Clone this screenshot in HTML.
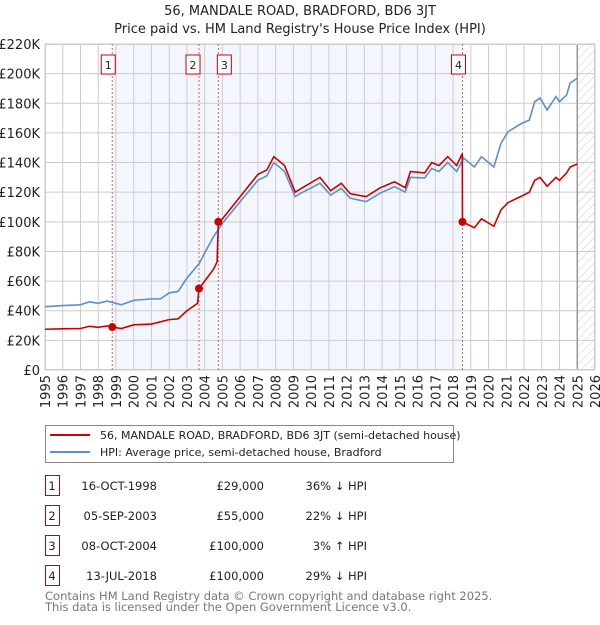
<!DOCTYPE html>
<html><head><meta charset="utf-8"><style>
body{margin:0;background:#fff;font-family:"Liberation Sans","DejaVu Sans",sans-serif;}
svg text{font-family:"DejaVu Sans","Liberation Sans",sans-serif;}
</style></head><body>
<svg id="c" width="600" height="620" xmlns="http://www.w3.org/2000/svg">
<defs><pattern id="hatch" width="6" height="6" patternUnits="userSpaceOnUse" patternTransform="rotate(45)"><line x1="0" y1="0" x2="0" y2="6" stroke="#ccc" stroke-width="1"/></pattern></defs>
<text x="300" y="15" text-anchor="middle" font-size="13" fill="#222">56, MANDALE ROAD, BRADFORD, BD6 3JT</text>
<text x="300" y="33" text-anchor="middle" font-size="13" fill="#222">Price paid vs. HM Land Registry's House Price Index (HPI)</text>
<g id="plot"></g>
<g>
<rect x="45.5" y="425.5" width="408" height="37" fill="#fff" stroke="#888"/>
<line x1="50" y1="435" x2="90" y2="435" stroke="#cc0000" stroke-width="2"/>
<text x="100" y="439" font-size="11" fill="#222">56, MANDALE ROAD, BRADFORD, BD6 3JT (semi-detached house)</text>
<line x1="50" y1="452" x2="90" y2="452" stroke="#5b8fd0" stroke-width="2"/>
<text x="100" y="456" font-size="11" fill="#222">HPI: Average price, semi-detached house, Bradford</text>
</g>
<g id="table" font-size="11" fill="#222"></g>
<text x="45" y="600" font-size="11.5" fill="#777">Contains HM Land Registry data © Crown copyright and database right 2025.</text>
<text x="45" y="611" font-size="11.5" fill="#777">This data is licensed under the Open Government Licence v3.0.</text>
</svg>
<script>
const hpiDates=[1995.0,1996,1997,1997.5,1998,1998.5,1999,1999.3,2000,2001,2001.5,2002,2002.5,2003,2003.7,2004,2004.5,2005,2006,2007,2007.5,2007.9,2008.5,2009.1,2009.37,2010.5,2011.1,2011.7,2012.2,2013.1,2013.9,2014.7,2015.3,2015.6,2016.4,2016.8,2017.2,2017.7,2018.2,2018.6,2019.2,2019.6,2020.3,2020.7,2021.1,2021.8,2022.3,2022.6,2022.9,2023.3,2023.8,2024.0,2024.4,2024.6,2025.0];
const hpiValues=[42.7,43.5,44,46,45,46.5,45,44,47,48,48,52,53,62,72,79,90,99,113.6,128,131,140,134,117,119,126,118,122.6,116,113.6,119.4,123.7,120,130,129.6,136,134,140,134,143,137,144,137,153,160.8,166,168.7,181,183.6,175.5,184.5,181,185.6,193.7,196.8];
const propDates=[1995.0,1996,1997,1997.5,1998,1998.5,1998.79,1999.3,2000,2001,2002,2002.5,2003,2003.6,2003.68,2004,2004.5,2004.7,2004.77,2005,2006,2007,2007.5,2007.9,2008.5,2009.1,2009.37,2010.5,2011.1,2011.7,2012.2,2013.1,2013.9,2014.7,2015.3,2015.6,2016.4,2016.8,2017.2,2017.7,2018.2,2018.52,2018.53,2019.2,2019.6,2020.3,2020.7,2021.1,2021.8,2022.3,2022.6,2022.9,2023.3,2023.8,2024.0,2024.4,2024.6,2025.0];
const propValues=[27.5,27.8,28,29.5,28.8,29.7,29,28,30.5,31,34,34.5,40,45,55,60,68,73,100,102,117,132,135,144,138,120,122,130,121,126,119,117,123,127,123,134,133,140,138,144,138,146,100,96,102,97,108,113,117,120,128,130,124,130,128,133,137,139];
const saleDates=[1998.79,2003.68,2004.77,2018.53];
const saleValues=[29,55,100,100];
const saleLabels=["1","2","3","4"];
const saleDateText=["16-OCT-1998","05-SEP-2003","08-OCT-2004","13-JUL-2018"];
const salePriceText=["£29,000","£55,000","£100,000","£100,000"];
const saleHpiText=["36% ↓ HPI","22% ↓ HPI","3% ↑ HPI","29% ↓ HPI"];
const yTicks=[0,20,40,60,80,100,120,140,160,180,200,220];
const yTickLabels=["£0","£20K","£40K","£60K","£80K","£100K","£120K","£140K","£160K","£180K","£200K","£220K"];
const xTicks=[1995,1996,1997,1998,1999,2000,2001,2002,2003,2004,2005,2006,2007,2008,2009,2010,2011,2012,2013,2014,2015,2016,2017,2018,2019,2020,2021,2022,2023,2024,2025,2026];

const X0=45,X1=595,Y0=370,Y1=44;
const xs=t=>X0+(t-1995)/(2026-1995)*(X1-X0);
const ys=v=>Y0-v/220*(Y0-Y1);
const NS="http://www.w3.org/2000/svg";
const plot=document.getElementById('plot');
function mk(tag,attrs,parent){const e=document.createElementNS(NS,tag);for(const k in attrs)e.setAttribute(k,attrs[k]);(parent||plot).appendChild(e);return e;}
let e;
e=mk('rect',{x:xs(saleDates[0]),y:Y1,width:xs(saleDates[3])-xs(saleDates[0]),height:Y0-Y1,fill:'#eef3fc',opacity:0.7});


e=mk('rect',{x:xs(2025),y:Y1,width:X1-xs(2025),height:Y0-Y1,fill:'url(#hatch)'});


yTicks.forEach((v,i)=>{
 let l=mk('line',{x1:X0,x2:X1,y1:ys(v),y2:ys(v),stroke:'#ccc','stroke-width':1});
 
 
 let t=mk('text',{x:40,y:ys(v)+5,'text-anchor':'end','font-size':13,fill:'#222'});
 
 
 t.textContent=yTickLabels[i];
});
xTicks.forEach(yr=>{
 let l=mk('line',{x1:xs(yr),x2:xs(yr),y1:Y1,y2:Y0,stroke:'#ccc','stroke-width':1});
 
 
 let t=mk('text',{x:0,y:0,'text-anchor':'end','font-size':13,fill:'#222',transform:`translate(${xs(yr)+5},${Y0+5}) rotate(-90)`});
 
 
 t.textContent=yr;
});
e=mk('line',{x1:xs(2025),x2:xs(2025),y1:Y1,y2:Y0,stroke:'#999','stroke-width':1.5});


e=mk('rect',{x:X0+0.5,y:Y1+0.5,width:X1-X0-1,height:Y0-Y1-1,fill:'none',stroke:'#ccc'});


saleDates.forEach((d,i)=>{
 let l=mk('line',{x1:xs(d),x2:xs(d),y1:Y1,y2:Y0,stroke:'#e06060','stroke-width':1,'stroke-dasharray':'2,2'});
 
 
 let bx=xs(d)-(i==0?0:(i==1?0:0));
 let off=(i==1)?-6:(i==2?6:-5);
 if(i==0)off=-4;if(i==3)off=-4;
 let r=mk('rect',{x:xs(d)+off-7,y:55,width:14,height:19,fill:'#fff',stroke:'#cc0000'});
 
 
 let t=mk('text',{x:xs(d)+off,y:69,'text-anchor':'middle','font-size':11,fill:'#222'});
 
 
 t.textContent=saleLabels[i];
});
e=mk('polyline',{points:hpiDates.map((d,i)=>xs(d)+','+ys(hpiValues[i])).join(' '),fill:'none',stroke:'#5b8fd0','stroke-width':1.6});


e=mk('polyline',{points:propDates.map((d,i)=>xs(d)+','+ys(propValues[i])).join(' '),fill:'none',stroke:'#cc0000','stroke-width':1.6});


saleDates.forEach((d,i)=>{
 let c=mk('circle',{cx:xs(d),cy:ys(saleValues[i]),r:4,fill:'#cc0000'});
 
 
});
const tbl=document.getElementById('table');
saleLabels.forEach((s,i)=>{
 const y=488+i*30;
 let r=mk('rect',{x:45.5,y:y-12.5,width:14,height:20,fill:'#fff',stroke:'#cc0000'},tbl);
 
 
 const cells=[[52,s,'middle'],[157,saleDateText[i],'end'],[264,salePriceText[i],'end'],[367,saleHpiText[i],'end']];
 cells.forEach(([x,txt,a],j)=>{
  let t=mk('text',{x:x,y:y+2,'text-anchor':a,'font-size':11.5,fill:'#222'},tbl);
  
  
  t.textContent=txt;
 });
});
</script>
</body></html>
